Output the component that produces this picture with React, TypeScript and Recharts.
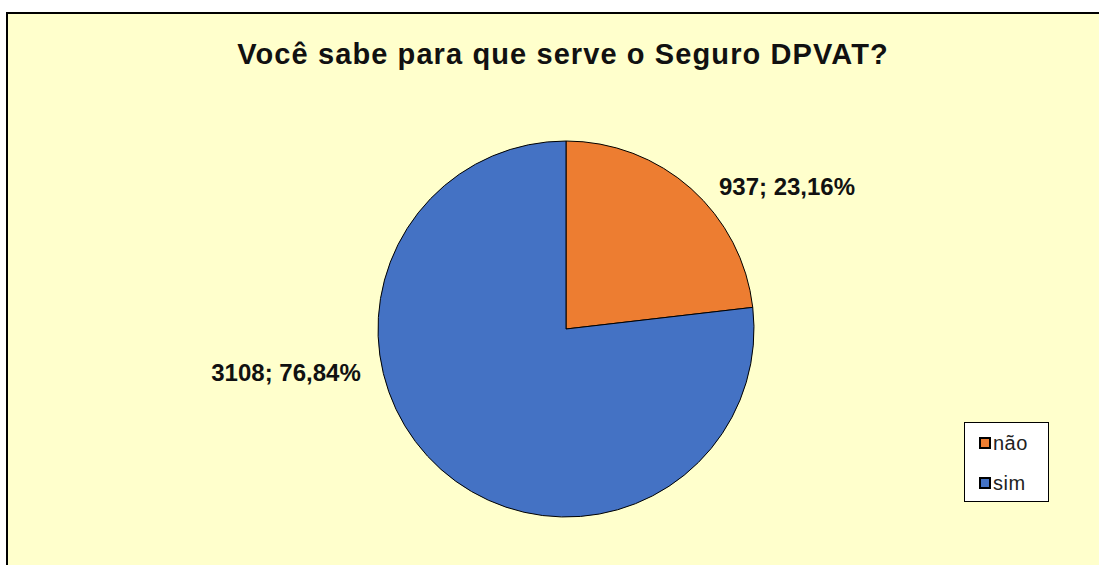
import React from "react";
import { PieChart, Pie, Cell, Legend } from "recharts";

const categories = ["não", "sim"];
const counts = [937, 3108];
const colors = ["#ED7D31", "#4472C4"];
const title = "Você sabe para que serve o Seguro DPVAT?";

// label placement relative to pie centre (style config, not data)
const labelOffsets = [
  { dx: 221, dy: -143 },
  { dx: -280, dy: 43 },
];

const data = categories.map((name, i) => ({ name, value: counts[i] }));

const FONT = "'Liberation Sans', Arial, sans-serif";

const renderLabel = (props: any) => {
  const { cx, cy, index, value, percent } = props;
  const off = labelOffsets[index];
  const pct = (percent * 100).toFixed(2).replace(".", ",");
  return (
    <text
      x={cx + off.dx}
      y={cy + off.dy}
      textAnchor="middle"
      dominantBaseline="central"
      fontFamily={FONT}
      fontWeight="bold"
      fontSize={24}
      fill="#111"
    >
      {`${value}; ${pct}%`}
    </text>
  );
};

const LegendContent = () => (
  <div
    style={{
      width: 83,
      height: 78,
      border: "1px solid #000",
      background: "#fff",
      boxSizing: "content-box",
      fontFamily: FONT,
      fontSize: 20,
      color: "#222",
      position: "relative",
    }}
  >
    {categories.map((c, i) => (
      <div
        key={c}
        style={{
          position: "absolute",
          left: 14,
          top: 8 + i * 40,
          display: "flex",
          alignItems: "center",
          height: 24,
        }}
      >
        <span
          style={{
            display: "inline-block",
            width: 8,
            height: 8,
            border: "2px solid #000",
            background: colors[i],
            marginRight: 2,
          }}
        />
        <span style={{ letterSpacing: 0.5 }}>{c}</span>
      </div>
    ))}
  </div>
);

export default function App() {
  return (
    <div
      style={{
        position: "fixed",
        left: 0,
        top: 0,
        width: 1099,
        height: 565,
        background: "#fff",
        overflow: "hidden",
      }}
    >
      <div
        style={{
          position: "absolute",
          left: 6,
          top: 12,
          width: 1200,
          height: 700,
          background: "#FFFFCC",
          borderLeft: "2px solid #000",
          borderTop: "2px solid #000",
        }}
      />
      <div
        style={{
          position: "absolute",
          left: 0,
          top: 36,
          width: 1126,
          textAlign: "center",
          fontFamily: FONT,
          fontWeight: "bold",
          fontSize: 29,
          letterSpacing: 1.1,
          color: "#111",
          lineHeight: "36px",
          whiteSpace: "nowrap",
        }}
      >
        {title}
      </div>
      <div style={{ position: "absolute", left: 0, top: 0 }}>
        <PieChart width={1099} height={565} margin={{ top: 0, right: 0, bottom: 0, left: 0 }}>
          <Pie
            data={data}
            dataKey="value"
            nameKey="name"
            cx={566}
            cy={329}
            outerRadius={188}
            startAngle={90}
            endAngle={-270}
            stroke="#000"
            strokeWidth={1}
            label={renderLabel}
            labelLine={false}
            isAnimationActive={false}
          >
            {data.map((d, i) => (
              <Cell key={d.name} fill={colors[i]} />
            ))}
          </Pie>
          <Legend
            content={<LegendContent />}
            wrapperStyle={{ position: "absolute", left: 964, top: 422, width: 85, height: 80 }}
          />
        </PieChart>
      </div>
    </div>
  );
}
